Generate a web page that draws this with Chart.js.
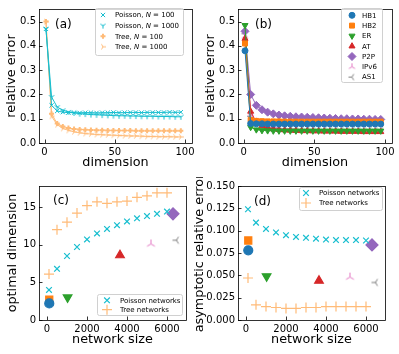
<!DOCTYPE html>
<html>
<head>
<meta charset="utf-8">
<script src="https://cdn.jsdelivr.net/npm/chart.js@4.4.0/dist/chart.umd.min.js"></script>
<style>
  body { margin: 0; background: #fff; width: 399px; height: 354px; position: relative; overflow: hidden; }
  canvas { position: absolute; }
</style>
</head>
<body>
<canvas id="ca" width="199" height="177" style="left:0;top:0"></canvas>
<canvas id="cb" width="200" height="177" style="left:199px;top:0"></canvas>
<canvas id="cc" width="199" height="177" style="left:0;top:177px"></canvas>
<canvas id="cd" width="209" height="177" style="left:190px;top:177px"></canvas>
<script>
// ---- data ----
const dims = [1, 5, 9, 13, 17, 21, 25, 29, 33, 37, 41, 45, 49, 53, 57, 61, 65, 69, 73, 77, 81, 85, 89, 93, 97];

// (a) synthetic networks
const poisson100  = [0.47, 0.155, 0.132, 0.127, 0.125, 0.125, 0.124, 0.125, 0.125, 0.124, 0.125, 0.125, 0.126, 0.125, 0.125, 0.126, 0.126, 0.125, 0.126, 0.126, 0.126, 0.126, 0.127, 0.126, 0.127];
const poisson1000 = [0.47, 0.19, 0.148, 0.135, 0.128, 0.124, 0.121, 0.119, 0.117, 0.116, 0.115, 0.114, 0.113, 0.112, 0.112, 0.111, 0.111, 0.110, 0.110, 0.110, 0.109, 0.109, 0.109, 0.108, 0.108];
const tree100     = [0.50, 0.12, 0.08, 0.068, 0.062, 0.058, 0.056, 0.055, 0.054, 0.053, 0.053, 0.052, 0.052, 0.051, 0.051, 0.051, 0.050, 0.050, 0.050, 0.050, 0.050, 0.050, 0.050, 0.050, 0.050];
const tree1000    = [0.50, 0.11, 0.075, 0.06, 0.052, 0.046, 0.042, 0.039, 0.037, 0.035, 0.034, 0.033, 0.032, 0.031, 0.030, 0.029, 0.029, 0.028, 0.027, 0.027, 0.026, 0.026, 0.026, 0.025, 0.025];

// (b) real networks
const hb1  = [0.38, 0.08, 0.079, 0.079, 0.078, 0.078, 0.078, 0.078, 0.078, 0.078, 0.078, 0.078, 0.078, 0.078, 0.078, 0.078, 0.078, 0.078, 0.078, 0.078, 0.078, 0.078, 0.078, 0.078, 0.078];
const hb2  = [0.41, 0.095, 0.091, 0.09, 0.089, 0.089, 0.089, 0.088, 0.088, 0.088, 0.088, 0.088, 0.088, 0.088, 0.088, 0.088, 0.088, 0.088, 0.088, 0.088, 0.088, 0.088, 0.088, 0.088, 0.088];
const er   = [0.485, 0.065, 0.055, 0.052, 0.051, 0.05, 0.05, 0.05, 0.05, 0.05, 0.05, 0.05, 0.05, 0.05, 0.05, 0.05, 0.05, 0.05, 0.05, 0.05, 0.05, 0.05, 0.05, 0.05, 0.05];
const at   = [0.43, 0.13, 0.085, 0.07, 0.062, 0.058, 0.055, 0.053, 0.052, 0.051, 0.05, 0.05, 0.049, 0.049, 0.048, 0.048, 0.048, 0.047, 0.047, 0.047, 0.047, 0.046, 0.046, 0.046, 0.046];
const p2p  = [0.46, 0.2, 0.155, 0.137, 0.127, 0.12, 0.115, 0.112, 0.11, 0.108, 0.107, 0.106, 0.105, 0.104, 0.103, 0.102, 0.101, 0.1, 0.1, 0.099, 0.099, 0.098, 0.098, 0.097, 0.097];
const ipv6 = [0.44, 0.12, 0.09, 0.075, 0.068, 0.064, 0.061, 0.059, 0.058, 0.057, 0.056, 0.056, 0.056, 0.055, 0.055, 0.055, 0.055, 0.055, 0.055, 0.055, 0.055, 0.055, 0.055, 0.055, 0.055];
const as1  = [0.45, 0.11, 0.085, 0.072, 0.066, 0.062, 0.06, 0.058, 0.057, 0.056, 0.055, 0.055, 0.054, 0.054, 0.054, 0.053, 0.053, 0.053, 0.053, 0.053, 0.053, 0.053, 0.053, 0.053, 0.053];

// (c), (d) versus network size
const netSize = [100, 500, 1000, 1500, 2000, 2500, 3000, 3500, 4000, 4500, 5000, 5500, 6000];
const poissonOptDim = [4.0, 6.8, 8.5, 9.7, 10.7, 11.5, 12.1, 12.6, 13.1, 13.5, 13.8, 14.1, 14.4];
const treeOptDim    = [6.1, 12.0, 13.0, 14.2, 15.2, 15.7, 15.5, 15.7, 15.8, 16.3, 16.5, 16.9, 16.9];
const poissonAsym   = [0.124, 0.109, 0.102, 0.098, 0.095, 0.093, 0.092, 0.091, 0.090, 0.0895, 0.0895, 0.0895, 0.089];
const treeAsym      = [0.047, 0.017, 0.015, 0.014, 0.013, 0.013, 0.014, 0.014, 0.015, 0.015, 0.015, 0.015, 0.015];

const realNames  = ['HB1', 'HB2', 'ER', 'AT', 'P2P', 'IPv6', 'AS1'];
const realSize   = [113, 113, 1030, 3650, 6300, 5200, 6474];
const realOptDim = [2.2, 2.7, 3.0, 8.6, 14.1, 10.1, 10.6];
const realAsym   = [0.078, 0.089, 0.049, 0.044, 0.084, 0.048, 0.042];

const dimTicks = [0, 50, 100];
const errTicks = [0, 0.1, 0.2, 0.3, 0.4, 0.5];
const sizeTicks = [0, 2000, 4000, 6000];
const optTicks = [0, 5, 10, 15];
const asymTicks = [0, 0.025, 0.05, 0.075, 0.1, 0.125, 0.15];

// ---- styling helpers ----
const FONT = '"DejaVu Sans", sans-serif';
const CYAN = '#17becf', LORANGE = '#ffbb78';
const realColors = ['#1f77b4', '#ff7f0e', '#2ca02c', '#d62728', '#9467bd', '#e377c2', '#7f7f7f'];

// matplotlib style "tri" markers
function tri(color, dir, r, lw) {
  const s = Math.ceil(r * 2 + lw * 2 + 2);
  const c = document.createElement('canvas');
  c.width = s; c.height = s;
  const g = c.getContext('2d');
  g.strokeStyle = color; g.lineWidth = lw;
  g.translate(s / 2, s / 2);
  g.rotate({ down: 0, up: Math.PI, left: Math.PI / 2, right: -Math.PI / 2 }[dir]);
  g.beginPath();
  [[0, r], [0.866 * r, -0.5 * r], [-0.866 * r, -0.5 * r]].forEach(p => { g.moveTo(0, 0); g.lineTo(p[0], p[1]); });
  g.stroke();
  return c;
}

const realMarkersSmall = [
  { pointStyle: 'circle', pointRadius: 3 },
  { pointStyle: 'rect', pointRadius: 3.5 },
  { pointStyle: 'triangle', pointRadius: 3.5, pointRotation: 180 },
  { pointStyle: 'triangle', pointRadius: 3.5 },
  { pointStyle: 'rectRot', pointRadius: 4 },
  { pointStyle: tri(realColors[5], 'up', 3.5, 1) },
  { pointStyle: tri(realColors[6], 'left', 3.5, 1) }
];
const realMarkersBig = [
  { pointStyle: 'circle', pointRadius: 4.5 },
  { pointStyle: 'rect', pointRadius: 5 },
  { pointStyle: 'triangle', pointRadius: 5, pointRotation: 180 },
  { pointStyle: 'triangle', pointRadius: 5 },
  { pointStyle: 'rectRot', pointRadius: 6 },
  { pointStyle: tri(realColors[5], 'up', 4.5, 1) },
  { pointStyle: tri(realColors[6], 'left', 4, 1) }
];

function xy(xs, ys) { return xs.map((x, i) => ({ x: x, y: ys[i] })); }

function drawRich(ctx, text, x, y, fs) {
  text.split('*').forEach((p, k) => {
    ctx.font = (k % 2 ? 'italic ' : '') + fs + 'px ' + FONT;
    ctx.fillText(p, x, y);
    x += ctx.measureText(p).width;
  });
}

// frame, inward ticks, panel label and in-axes legend
const framePlugin = {
  id: 'frame',
  afterDraw(chart, args, o) {
    const { ctx, chartArea: a, scales } = chart;
    ctx.save();
    ctx.strokeStyle = '#000';
    ctx.lineWidth = 0.8;
    ctx.beginPath();
    scales.x.ticks.forEach(t => {
      const px = Math.round(scales.x.getPixelForValue(t.value)) + 0.5;
      ctx.moveTo(px, a.bottom); ctx.lineTo(px, a.bottom - 3.5);
    });
    scales.y.ticks.forEach(t => {
      const py = Math.round(scales.y.getPixelForValue(t.value)) + 0.5;
      ctx.moveTo(a.left, py); ctx.lineTo(a.left + 3.5, py);
    });
    ctx.stroke();
    ctx.strokeRect(a.left + 0.5, a.top + 0.5, a.right - a.left, a.bottom - a.top);

    ctx.fillStyle = '#000';
    ctx.font = '12px ' + FONT;
    ctx.textBaseline = 'middle';
    ctx.fillText(o.label, o.lx, o.ly);

    const L = o.legend;
    ctx.beginPath();
    ctx.roundRect(L.x0 + 0.5, L.y0 + 0.5, L.x1 - L.x0, L.y1 - L.y0, 2);
    ctx.fillStyle = 'rgba(255,255,255,0.8)';
    ctx.strokeStyle = '#d0d0d0';
    ctx.lineWidth = 1;
    ctx.fill(); ctx.stroke();
    let k = 0;
    chart.data.datasets.forEach(ds => {
      if (ds.noLegend) return;
      const y = L.y + k * L.dy;
      k++;
      ctx.fillStyle = ds.backgroundColor;
      ctx.strokeStyle = ds.borderColor;
      ctx.lineWidth = ds.pointBorderWidth;
      Chart.helpers.drawPoint(ctx, {
        pointStyle: ds.pointStyle, radius: ds.pointRadius,
        rotation: ds.pointRotation || 0, borderWidth: ds.pointBorderWidth
      }, L.mx, y);
      ctx.fillStyle = '#000';
      drawRich(ctx, ds.label, L.tx, y + 0.5, L.fs);
    });
    ctx.restore();
  }
};

function axes(xMin, xMax, xTicks, yMin, yMax, yTicks, xTitle, yTitle, yTitlePad, yDigits, yWidth) {
  return {
    x: {
      type: 'linear', min: xMin, max: xMax,
      grid: { display: false, drawTicks: false }, border: { display: false },
      afterBuildTicks: s => { s.ticks = xTicks.map(v => ({ value: v })); },
      afterFit: s => { s.height = 34; },
      ticks: { color: '#000', padding: 3, font: { family: FONT, size: 10 }, maxRotation: 0, callback: v => String(v) },
      title: { display: true, text: xTitle, color: '#000', font: { family: FONT, size: 12.8, lineHeight: 1 }, padding: { top: 0, bottom: 8 } }
    },
    y: {
      type: 'linear', min: yMin, max: yMax,
      grid: { display: false, drawTicks: false }, border: { display: false },
      afterBuildTicks: s => { s.ticks = yTicks.map(v => ({ value: v })); },
      afterFit: s => { s.width = yWidth; },
      ticks: { color: '#000', padding: 3, font: { family: FONT, size: 10 }, callback: v => v.toFixed(yDigits) },
      title: { display: true, text: yTitle, color: '#000', font: { family: FONT, size: 12.8, lineHeight: 1 }, padding: { top: yTitlePad, bottom: 0 } }
    }
  };
}

function make(id, datasets, scales, right, frame) {
  new Chart(document.getElementById(id), {
    type: 'scatter',
    data: { datasets: datasets },
    options: {
      responsive: false, animation: false, devicePixelRatio: 1,
      layout: { padding: { top: frame.top, right: right, left: 0, bottom: 0 } },
      scales: scales,
      plugins: { legend: { display: false }, tooltip: { enabled: false }, frame: frame }
    },
    plugins: [framePlugin]
  });
}

function lineSet(label, ys, color, marker) {
  return Object.assign({
    label: label, data: xy(dims, ys), showLine: true,
    borderColor: color, backgroundColor: color, borderWidth: 1,
    pointBorderColor: color, pointBackgroundColor: color, pointBorderWidth: 1
  }, marker);
}

// (a)
make('ca', [
  lineSet('Poisson, *N* = 100', poisson100, CYAN, { pointStyle: 'crossRot', pointRadius: 3 }),
  lineSet('Poisson, *N* = 1000', poisson1000, CYAN, { pointStyle: tri(CYAN, 'down', 3, 1), pointRadius: 3 }),
  lineSet('Tree, *N* = 100', tree100, LORANGE, { pointStyle: 'cross', pointRadius: 2.5, pointBorderWidth: 2 }),
  lineSet('Tree, *N* = 1000', tree1000, LORANGE, { pointStyle: tri(LORANGE, 'right', 3, 1), pointRadius: 3 })
], axes(-3.95, 104.95, dimTicks, 0, 0.552, errTicks, 'dimension', 'relative error', 5, 1, 39), 7, {
  top: 7, label: '(a)', lx: 55, ly: 25,
  legend: { x0: 95, y0: 8, x1: 183, y1: 55, y: 15, dy: 10.6, mx: 103, tx: 115, fs: 7 }
});

// (b)
const realLines = [hb1, hb2, er, at, p2p, ipv6, as1];
make('cb', realNames.map((n, i) => lineSet(n, realLines[i], realColors[i], realMarkersSmall[i])),
  axes(-3.95, 104.95, dimTicks, 0, 0.552, errTicks, 'dimension', 'relative error', 5, 1, 39), 7, {
  top: 7, label: '(b)', lx: 56, ly: 25,
  legend: { x0: 142, y0: 8, x1: 183, y1: 82, y: 15.3, dy: 10.3, mx: 153, tx: 163, fs: 7 }
});

function pointSet(label, xs, ys, color, marker, noLegend) {
  return Object.assign({
    label: label, data: xy(xs, ys), showLine: false, noLegend: noLegend,
    borderColor: color, backgroundColor: color,
    pointBorderColor: color, pointBackgroundColor: color, pointBorderWidth: 1.2
  }, marker);
}

function panelSets(poissonY, treeY, realY) {
  return [
    pointSet('Poisson networks', netSize, poissonY, CYAN, { pointStyle: 'crossRot', pointRadius: 4 }),
    pointSet('Tree networks', netSize, treeY, LORANGE, { pointStyle: 'cross', pointRadius: 5 })
  ].concat(realNames.map((n, i) =>
    pointSet(n, [realSize[i]], [realY[i]], realColors[i], realMarkersBig[i], true)));
}

// (c)
make('cc', panelSets(poissonOptDim, treeOptDim, realOptDim),
  axes(-400, 6950, sizeTicks, 0, 17.8, optTicks, 'network size', 'optimal dimension', 6, 0, 39), 13, {
  top: 8, label: '(c)', lx: 53, ly: 24,
  legend: { x0: 97, y0: 117, x1: 182, y1: 138, y: 123.3, dy: 9.4, mx: 107, tx: 120, fs: 7 }
});

// (d) canvas starts 9px further left so its long axis title fits
make('cd', panelSets(poissonAsym, treeAsym, realAsym),
  axes(-400, 6950, sizeTicks, 0, 0.15, asymTicks, 'network size', 'asymptotic relative error', 3.5, 3, 48), 14, {
  top: 8, label: '(d)', lx: 64, ly: 25,
  legend: { x0: 109, y0: 10, x1: 192, y1: 33, y: 16, dy: 10, mx: 116, tx: 129, fs: 7 }
});
</script>
</body>
</html>
